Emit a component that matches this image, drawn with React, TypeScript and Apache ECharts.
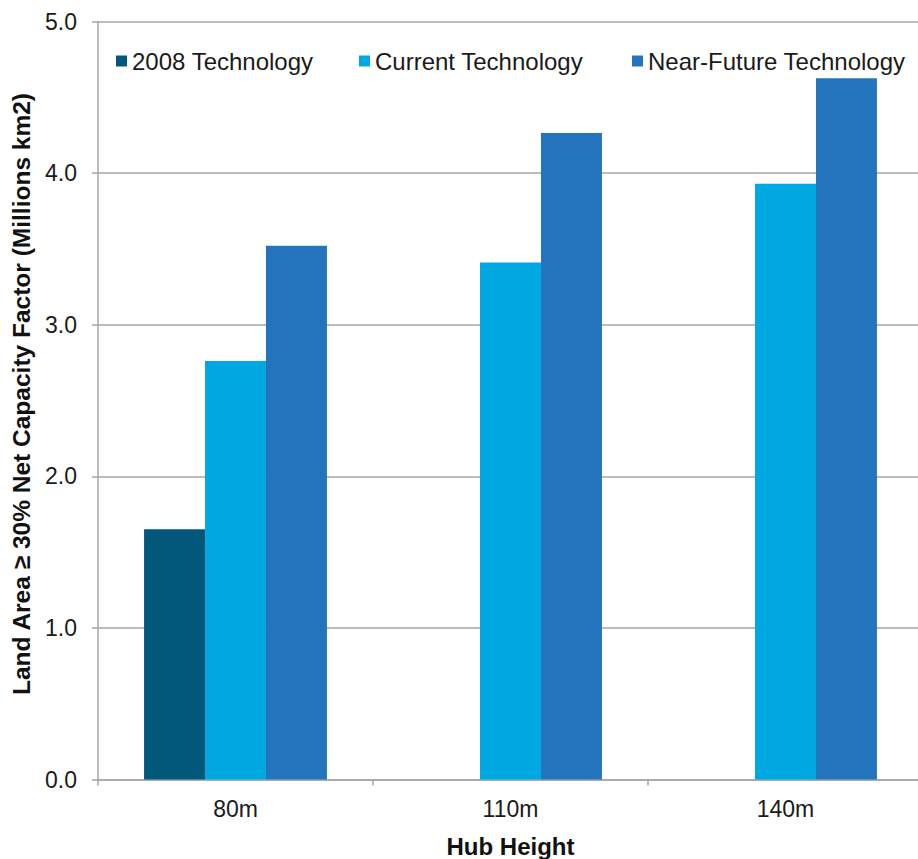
import React, { useEffect, useRef } from "react";
import * as echarts from "echarts";

const categories = ["80m", "110m", "140m"];
const seriesNames = ["2008 Technology", "Current Technology", "Near-Future Technology"];
const tech2008 = [1.65, null, null];
const techCurrent = [2.76, 3.41, 3.93];
const techNearFuture = [3.52, 4.265, 4.625];
const colors = ["#02587a", "#00a8e1", "#2474bd"];
const legendLefts = [116, 359, 632];

const FONT = "'Liberation Sans', Arial, Helvetica, sans-serif";

export default function App() {
  const ref = useRef<HTMLDivElement>(null);
  useEffect(() => {
    document.body.style.margin = "0";
    if (!ref.current) return;
    const chart = echarts.init(ref.current, null, { renderer: "svg" });
    const values = [tech2008, techCurrent, techNearFuture];
    chart.setOption({
      animation: false,
      textStyle: { fontFamily: FONT },
      grid: {
        left: 98,
        right: 2,
        top: 21.5,
        bottom: 79.5,
        containLabel: false,
        outerBoundsMode: "none",
      },
      legend: seriesNames.map((n, i) => ({
        data: [n],
        left: legendLefts[i],
        top: 49,
        icon: "rect",
        itemWidth: 11,
        itemHeight: 11,
        itemGap: 6,
        textStyle: { fontSize: 24, color: "#1a1a1a", fontFamily: FONT, padding: [0, 0, 0, 0] },
        padding: 0,
        selectedMode: false,
      })),
      xAxis: {
        type: "category",
        data: categories,
        name: "Hub Height",
        nameLocation: "middle",
        nameGap: 55,
        nameTextStyle: { fontSize: 24, fontWeight: "bold", color: "#111", fontFamily: FONT },
        axisLine: { lineStyle: { color: "#a6a6a6", width: 1.5 } },
        axisTick: { show: true, length: 6, lineStyle: { color: "#a6a6a6", width: 1.5 } },
        axisLabel: { fontSize: 23, color: "#1a1a1a", margin: 18, fontFamily: FONT },
      },
      yAxis: {
        type: "value",
        min: 0,
        max: 5,
        interval: 1,
        name: "Land Area ≥ 30% Net Capacity Factor (Millions km2)",
        nameLocation: "middle",
        nameGap: 59,
        nameRotate: 90,
        nameTextStyle: {
          fontSize: 24.5,
          fontWeight: "bold",
          color: "#111",
          fontFamily: FONT,
          padding: [0, 0, 0, 13],
        },
        axisLine: { show: true, lineStyle: { color: "#a6a6a6", width: 1.5 } },
        axisTick: { show: true, length: 6, lineStyle: { color: "#a6a6a6", width: 1.5 } },
        axisLabel: {
          fontSize: 23,
          color: "#1a1a1a",
          margin: 21,
          fontFamily: FONT,
          formatter: (v: number) => v.toFixed(1),
        },
        splitLine: { show: true, lineStyle: { color: "#a6a6a6", width: 1.5 } },
      },
      series: seriesNames.map((n, i) => ({
        name: n,
        type: "bar",
        data: values[i],
        barGap: "0%",
        barCategoryGap: "33.5%",
        itemStyle: { color: colors[i] },
      })),
    });
    return () => chart.dispose();
  }, []);
  return (
    <div style={{ width: 918, height: 859, overflow: "hidden" }}>
      <div ref={ref} style={{ width: 925, height: 859 }} />
    </div>
  );
}
